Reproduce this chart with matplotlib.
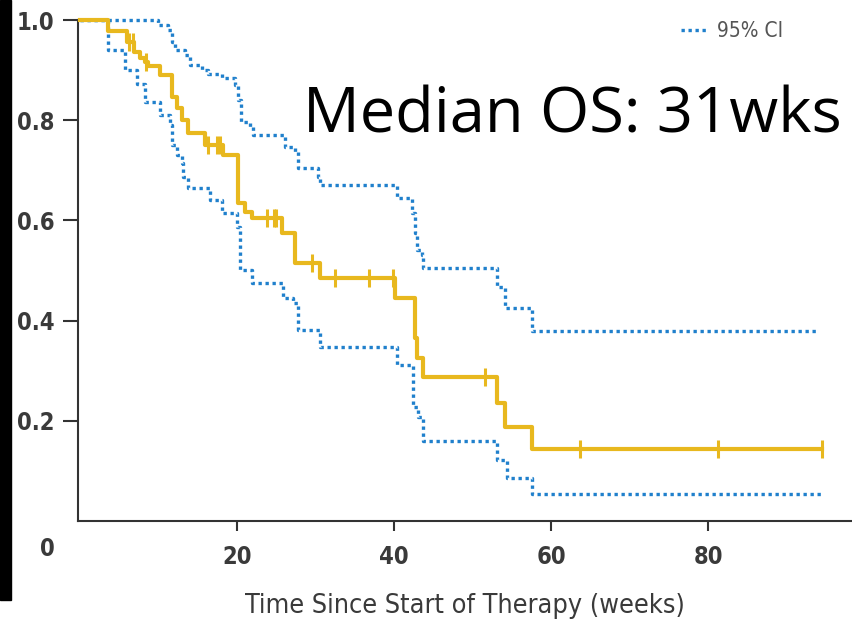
import numpy as np
import matplotlib.pyplot as plt
from matplotlib.patches import Rectangle
from matplotlib.font_manager import FontProperties

# Kaplan-Meier estimate (weeks, survival)
km_times = [0, 3.6, 6.0, 6.9, 7.6, 8.3, 8.7, 10.2, 11.7, 12.4, 13.0, 13.8, 15.9, 18.2,
            20.1, 21.0, 21.9, 25.7, 27.4, 30.6, 40.1, 42.7, 42.9, 43.7, 53.1, 54.1, 57.6]
km_surv = [1.0, 0.978, 0.956, 0.936, 0.924, 0.916, 0.908, 0.890, 0.846, 0.824, 0.800, 0.774,
           0.750, 0.731, 0.635, 0.617, 0.605, 0.575, 0.515, 0.485, 0.445, 0.365, 0.325,
           0.287, 0.236, 0.188, 0.144]
km_end = 94.5
censor_times = [6.3, 6.8, 8.4, 16.3, 17.4, 17.8, 23.8, 24.7, 25.0, 29.5, 32.5, 36.8,
                39.8, 51.6, 63.7, 81.3, 94.5]

# 95% CI upper bound
up_times = [0, 9.9, 11.2, 11.7, 12.1, 13.4, 14.0, 15.5, 16.3, 18.1, 19.7, 20.1, 20.5,
            21.7, 22.0, 26.1, 27.4, 27.8, 30.3, 30.6, 40.4, 42.3, 42.7, 42.9, 43.6, 43.7,
            53.1, 54.1, 57.6]
up_surv = [1.0, 0.990, 0.980, 0.956, 0.940, 0.930, 0.910, 0.900, 0.892, 0.884, 0.870,
           0.840, 0.796, 0.786, 0.770, 0.746, 0.737, 0.705, 0.687, 0.671, 0.645, 0.615,
           0.575, 0.541, 0.531, 0.505, 0.467, 0.425, 0.379]
up_end = 94.0

# 95% CI lower bound
lo_times = [0, 3.6, 5.7, 7.3, 8.3, 10.2, 11.5, 11.7, 12.4, 13.0, 13.1, 13.8, 16.6, 18.1,
            20.0, 20.4, 21.9, 25.9, 27.1, 27.8, 30.6, 40.4, 42.4, 43.1, 43.7, 53.1, 54.4, 57.6]
lo_surv = [1.0, 0.940, 0.900, 0.872, 0.836, 0.810, 0.790, 0.750, 0.731, 0.715, 0.687,
           0.665, 0.641, 0.615, 0.587, 0.501, 0.475, 0.445, 0.435, 0.381, 0.347, 0.311,
           0.228, 0.208, 0.160, 0.122, 0.086, 0.054]
lo_end = 94.5

x_ticks = [20, 40, 60, 80]
y_ticks = [0.2, 0.4, 0.6, 0.8, 1.0]

gray_txt = '#3a3a3a'
yellow = '#E8B81E'
blue = '#2080CC'


def narrow(size, weight='bold'):
    return FontProperties(family='DejaVu Sans', stretch='condensed', weight=weight,
                          size=size)


def extend(t, s, end):
    return list(t) + [end], list(s) + [s[-1]]


fig = plt.figure(figsize=(8.52, 6.25), dpi=100)
ax = fig.add_axes([0.0915, 0.1664, 0.9085, 0.8016])

t, s = extend(up_times, up_surv, up_end)
ax.step(t, s, where='post', color=blue, lw=2.4, ls=(0, (1, 1.1)), clip_on=False,
        label='95% CI')
t, s = extend(lo_times, lo_surv, lo_end)
ax.step(t, s, where='post', color=blue, lw=2.4, ls=(0, (1, 1.1)), clip_on=False)
t, s = extend(km_times, km_surv, km_end)
ax.step(t, s, where='post', color=yellow, lw=3, clip_on=False, zorder=3)

idx = np.searchsorted(km_times, censor_times, side='right') - 1
cens_s = np.array(km_surv)[idx]
ax.plot(censor_times, cens_s, ls='none', marker='|', ms=13, mew=2.2, color=yellow,
        clip_on=False, zorder=3)

ax.set_xlim(-0.25, 98.3)
ax.set_ylim(0, 1.0)
for side in ['top', 'right']:
    ax.spines[side].set_visible(False)
for side in ['left', 'bottom']:
    ax.spines[side].set_color('#333333')
    ax.spines[side].set_linewidth(1.5)

ax.set_xticks(x_ticks)
ax.set_yticks(y_ticks)
ax.set_yticklabels([f'{v:.1f}' for v in y_ticks])
ax.tick_params(axis='y', length=11, width=1.5, color='#333333', pad=6,
               labelcolor=gray_txt)
ax.tick_params(axis='x', length=7, width=1.5, color='#333333', pad=10,
               labelcolor=gray_txt)
for lab in ax.get_xticklabels() + ax.get_yticklabels():
    lab.set_fontproperties(narrow(17))

ax.text(-0.039, -0.055, '0', transform=ax.transAxes, ha='center', va='center',
        color=gray_txt, fontproperties=narrow(17))
ax.set_xlabel('Time Since Start of Therapy (weeks)', color=gray_txt,
              fontproperties=narrow(19.4, 'normal'))
ax.xaxis.set_label_coords(0.5, -0.143)

ax.text(0.291, 0.776, 'Median OS: 31wks', transform=ax.transAxes, fontsize=45.5,
        family='Open Sans', color='black', va='baseline')

leg = ax.legend(loc='upper right', bbox_to_anchor=(0.935, 1.035), frameon=False,
                handlelength=1.3, handletextpad=0.4, prop=narrow(15, 'normal'))
for txt in leg.get_texts():
    txt.set_color('#555555')

fig.add_artist(Rectangle((0, 0.04), 0.013, 0.96, transform=fig.transFigure,
                         color='black', zorder=-1))

fig.savefig('out.png', dpi=100)
